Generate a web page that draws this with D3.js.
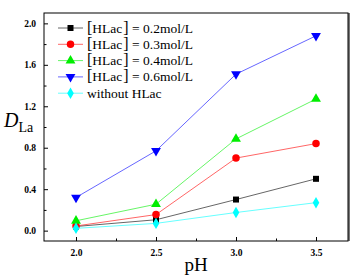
<!DOCTYPE html>
<html>
<head>
<meta charset="utf-8">
<script src="https://cdn.jsdelivr.net/npm/d3@7"></script>
<style>
  body { margin: 0; background: #fff; }
  svg text { font-family: "Liberation Serif", "DejaVu Serif", serif !important; }
</style>
</head>
<body>
<div id="chart"></div>
<script>
// x values (pH) and series values
var phValues = [2.0, 2.5, 3.0, 3.5];
var hlac02 = [0.04, 0.105, 0.30, 0.50];
var hlac03 = [0.045, 0.155, 0.70, 0.84];
var hlac04 = [0.095, 0.255, 0.885, 1.27];
var hlac06 = [0.32, 0.77, 1.51, 1.88];
var noHlac = [0.022, 0.07, 0.175, 0.27];

var seriesNames = ["0.2mol/L", "0.3mol/L", "0.4mol/L", "0.6mol/L", "without HLac"];
var xTicks = [2.0, 2.5, 3.0, 3.5];
var yTicks = [0.0, 0.4, 0.8, 1.2, 1.6, 2.0];

var series = [
    {name: seriesNames[0], values: hlac02, color: "#000000", symbol: d3.symbolSquare, size: 36, rot: 0},
    {name: seriesNames[1], values: hlac03, color: "#ff0000", symbol: d3.symbolCircle, size: 44, rot: 0},
    {name: seriesNames[2], values: hlac04, color: "#00ee00", symbol: d3.symbolTriangle, size: 42, rot: 0},
    {name: seriesNames[3], values: hlac06, color: "#0000ff", symbol: d3.symbolTriangle, size: 42, rot: 180},
    {name: seriesNames[4], values: noHlac, color: "#00ffff", symbol: d3.symbolDiamond, size: 38, rot: 0}
];

var W = 358, H = 279;
var margin = {top: 13, right: 10, bottom: 38, left: 44};
var w = W - margin.left - margin.right;
var h = H - margin.top - margin.bottom;

var svg = d3.select("#chart").append("svg")
    .attr("width", W)
    .attr("height", H)
    .attr("font-family", "Liberation Serif, serif");

var g = svg.append("g")
    .attr("transform", "translate(" + margin.left + "," + margin.top + ")");

var x = d3.scaleLinear().domain([1.8, 3.7]).range([0, w]);
var y = d3.scaleLinear().domain([-0.1, 2.1]).range([h, 0]);

// frame
g.append("line").attr("x1", w + 1).attr("x2", w + 1).attr("y1", 0).attr("y2", h)
    .attr("stroke", "#777").attr("stroke-width", 2);
g.append("rect").attr("x", 0).attr("y", 0).attr("width", w).attr("height", h)
    .attr("fill", "none").attr("stroke", "#000").attr("stroke-width", 1);

// axes with inward ticks
var xAxis = d3.axisBottom(x).tickValues(xTicks).tickSizeInner(-4).tickSizeOuter(0).tickPadding(8)
    .tickFormat(d3.format(".1f"));
var xMinor = d3.axisBottom(x).tickValues([2.25, 2.75, 3.25]).tickSizeInner(-2.5).tickSizeOuter(0).tickFormat("");
var yAxis = d3.axisLeft(y).tickValues(yTicks).tickSizeInner(-4).tickSizeOuter(0).tickPadding(8)
    .tickFormat(d3.format(".1f"));
var yMinor = d3.axisLeft(y).tickValues([0.2, 0.6, 1.0, 1.4, 1.8]).tickSizeInner(-2.5).tickSizeOuter(0).tickFormat("");

[[xAxis, true], [xMinor, true], [yAxis, false], [yMinor, false]].forEach(function(a) {
    var ax = g.append("g")
        .attr("transform", a[1] ? "translate(0," + h + ")" : null)
        .call(a[0])
        .attr("font-family", "Liberation Serif, serif");
    ax.select(".domain").remove();
    ax.selectAll("line").attr("stroke", "#000");
    ax.selectAll("text")
        .attr("font-size", 9.5)
        .attr("font-weight", "bold")
        .attr("fill", "#000");
});

// lines and markers
var line = d3.line()
    .x(function(d, i) { return x(phValues[i]); })
    .y(function(d) { return y(d); });

series.forEach(function(s) {
    g.append("path")
        .datum(s.values)
        .attr("d", line)
        .attr("fill", "none")
        .attr("stroke", s.color)
        .attr("stroke-opacity", 0.6)
        .attr("stroke-width", 1);
});

series.forEach(function(s) {
    g.selectAll(null)
        .data(s.values)
        .enter()
        .append("path")
        .attr("d", d3.symbol().type(s.symbol).size(s.size))
        .attr("transform", function(d, i) {
            return "translate(" + x(phValues[i]) + "," + y(d) + ") rotate(" + s.rot + ")";
        })
        .attr("fill", s.color);
});

// legend
var legend = g.append("g").attr("transform", "translate(14,15)");
series.forEach(function(s, i) {
    var row = legend.append("g").attr("transform", "translate(0," + (i * 16.3) + ")");
    row.append("line").attr("x1", 0).attr("x2", 25).attr("y1", 0).attr("y2", 0)
        .attr("stroke", s.color).attr("stroke-opacity", 0.6).attr("stroke-width", 1);
    row.append("path")
        .attr("d", d3.symbol().type(s.symbol).size(s.size))
        .attr("transform", "translate(12.5,0) rotate(" + s.rot + ")")
        .attr("fill", s.color);
    var t = row.append("text").attr("x", 29).attr("y", 4.5).attr("font-size", 13.5).attr("fill", "#000");
    if (i < 4) {
        t.append("tspan").attr("font-size", 16).text("[");
        t.append("tspan").text("HLac");
        t.append("tspan").attr("font-size", 16).attr("dx", 1).text("]");
        t.append("tspan").text(" = " + s.name);
    } else {
        t.text(s.name);
    }
});

// axis titles
svg.append("text")
    .attr("x", margin.left + x(2.75))
    .attr("y", 271)
    .attr("text-anchor", "middle")
    .attr("font-size", 19)
    .text("pH");

var yl = svg.append("text").attr("x", 4).attr("y", 127).attr("font-size", 20);
yl.append("tspan").attr("font-style", "italic").text("D");
yl.append("tspan").attr("font-size", 14).attr("dy", 5).text("La");
</script>
</body>
</html>
